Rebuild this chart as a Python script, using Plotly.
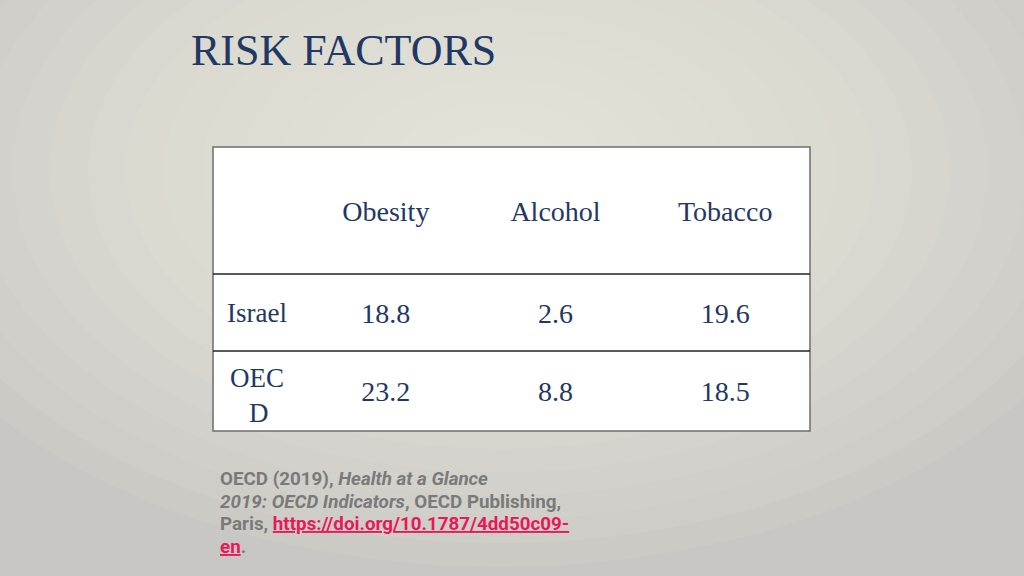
"""Risk factors slide: Israel vs OECD table."""

import plotly.graph_objects as go

# data
title = "RISK FACTORS"
columns = ["Obesity", "Alcohol", "Tobacco"]
countries = ["Israel", "OEC<br>\u2002\u2009D"]
obesity = [18.8, 23.2]
alcohol = [2.6, 8.8]
tobacco = [19.6, 18.5]
citation = [
    "<b>OECD (2019), <i>Health at a Glance</i></b>",
    "<b><i>2019: OECD Indicators</i>, OECD Publishing,</b>",
    "<b>Paris, <span style='color:#e8185a'><u>https://doi.org/10.1787/4dd50c09-</u></span></b>",
    "<b><span style='color:#e8185a'><u>en</u></span>.</b>",
]

W, H = 1024, 576
NAVY = "#1f3864"
SERIF = "Liberation Serif, DejaVu Serif, serif"
CLEAR = "rgba(0,0,0,0)"

# table box in pixels
tx0, tx1, txc = 213, 810, 301
ty0, ty1 = 147, 431
sep1, sep2 = 274, 351
TEXT_OFF = 20  # first-line centre below a cell top


def px(x):
    return x / W


def py(y):
    return 1 - y / H


fig = go.Figure()

# numbers table (header text centred at ~212, rows at ~314 / ~392)
top = 212 - TEXT_OFF
fig.add_trace(go.Table(
    domain=dict(x=[px(txc), px(tx1)], y=[py(top + 270), py(top)]),
    columnwidth=[1, 1, 1],
    header=dict(
        values=columns,
        height=314 - TEXT_OFF - top,
        fill_color=CLEAR,
        line=dict(width=1, color=CLEAR),
        font=dict(family=SERIF, size=28, color=NAVY),
        align="center",
    ),
    cells=dict(
        values=[[f"{v:.1f}" for v in obesity],
                [f"{v:.1f}" for v in alcohol],
                [f"{v:.1f}" for v in tobacco]],
        height=392 - 314,
        fill_color=CLEAR,
        line=dict(width=1, color=CLEAR),
        font=dict(family=SERIF, size=28, color=NAVY),
        align="center",
    ),
))

# country column (Israel ~314, OEC/D ~375/409)
fig.add_trace(go.Table(
    domain=dict(x=[px(tx0), px(txc)], y=[py(top + 270), py(top)]),
    header=dict(
        values=[""],
        height=314 - TEXT_OFF - top,
        fill_color=CLEAR,
        line=dict(width=1, color=CLEAR),
        font=dict(family=SERIF, size=28, color=NAVY),
    ),
    cells=dict(
        values=[countries],
        height=375 - 314,
        fill_color=CLEAR,
        line=dict(width=1, color=CLEAR),
        font=dict(family=SERIF, size=27, color=NAVY),
        align="center",
    ),
))

shapes = []
# soft radial background glow
n = 16
for i in range(n):
    rx = 640 - i * 38
    ry = rx * 0.62
    cx, cy = 500, 170
    shapes.append(dict(type="circle", xref="paper", yref="paper", layer="below",
                       x0=px(cx - rx), x1=px(cx + rx), y0=py(cy + ry), y1=py(cy - ry),
                       fillcolor="#efeeeb", opacity=0.08, line=dict(width=0)))
# white table body + outer border
shapes.append(dict(type="rect", xref="paper", yref="paper", layer="below",
                   x0=px(tx0), x1=px(tx1), y0=py(ty1), y1=py(ty0),
                   fillcolor="white", line=dict(color="#6e6e6e", width=1.5)))
# row separators
for y in [sep1, sep2]:
    shapes.append(dict(type="line", xref="paper", yref="paper",
                       x0=px(tx0), x1=px(tx1), y0=py(y), y1=py(y),
                       line=dict(color="#222222", width=1.5)))

annotations = [
    dict(text=title, x=px(189), y=py(50), xref="paper", yref="paper",
         xanchor="left", yanchor="middle", showarrow=False,
         font=dict(family=SERIF, size=44, color=NAVY)),
]
for i, line in enumerate(citation):
    annotations.append(dict(
        text=line, x=px(218), y=py(479 + i * 22.7), xref="paper", yref="paper",
        xanchor="left", yanchor="middle", align="left", showarrow=False,
        font=dict(family="Roboto, sans-serif", size=18.8, color="#7a7a7a")))

fig.update_layout(
    width=W, height=H,
    margin=dict(l=0, r=0, t=0, b=0),
    paper_bgcolor="#c9c7c3",
    plot_bgcolor="#c9c7c3",
    shapes=shapes,
    annotations=annotations,
)

fig.write_html("out.html", config={"displayModeBar": False},
               post_script="document.body.style.margin='0';")
